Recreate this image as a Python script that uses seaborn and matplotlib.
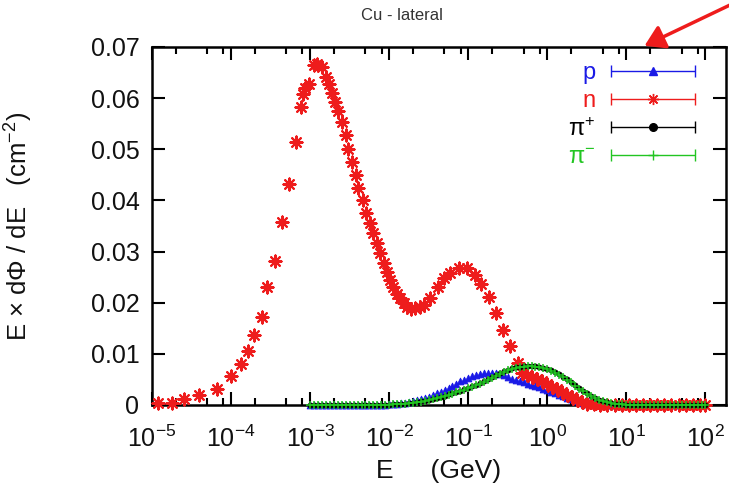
import numpy as np
import pandas as pd
import matplotlib
matplotlib.use("Agg")
import matplotlib.pyplot as plt
import seaborn as sns
from matplotlib.container import ErrorbarContainer
from matplotlib.legend_handler import HandlerErrorbar
from matplotlib.ticker import LogLocator, FixedLocator, FuncFormatter, NullFormatter

# ---------------- data ----------------
# log10(E/GeV) grid of the p / pi+ / pi- series
pi_logE = [-3.00, -2.95, -2.90, -2.85, -2.80, -2.75, -2.70, -2.65, -2.60, -2.55,
           -2.50, -2.45, -2.40, -2.35, -2.30, -2.25, -2.20, -2.15, -2.10, -2.05,
           -2.00, -1.95, -1.90, -1.85, -1.80, -1.75, -1.70, -1.65, -1.60, -1.55,
           -1.50, -1.45, -1.40, -1.35, -1.30, -1.25, -1.20, -1.15, -1.10, -1.05,
           -1.00, -0.95, -0.90, -0.85, -0.80, -0.75, -0.70, -0.65, -0.60, -0.55,
           -0.50, -0.45, -0.40, -0.35, -0.30, -0.25, -0.20, -0.15, -0.10, -0.05,
           0.00, 0.05, 0.10, 0.15, 0.20, 0.25, 0.30, 0.35, 0.40, 0.45,
           0.50, 0.55, 0.60, 0.65, 0.70, 0.75, 0.80, 0.85, 0.90, 0.95,
           1.00, 1.05, 1.10, 1.15, 1.20, 1.25, 1.30, 1.35, 1.40, 1.45,
           1.50, 1.55, 1.60, 1.65, 1.70, 1.75, 1.80, 1.85, 1.90, 1.95, 2.00]

p_flux = [0, 0, 0, 0, 0, 0, 0, 0, 0, 0,
          0, 0, 0, 0, 0, 0, 0, 0, 0, 0,
          0.0001, 0.0001, 0.0002, 0.0003, 0.0004, 0.0005, 0.0007, 0.0009, 0.0011, 0.0013,
          0.0016, 0.0019, 0.0023, 0.0026, 0.0030, 0.0034, 0.0038, 0.0042, 0.0046, 0.0049,
          0.0053, 0.0056, 0.0059, 0.0061, 0.0062, 0.0063, 0.0063, 0.0062, 0.0061, 0.0058,
          0.0054, 0.0051, 0.0049, 0.0046, 0.0044, 0.0042, 0.0040, 0.0038, 0.0035, 0.0032,
          0.0029, 0.0026, 0.0023, 0.0020, 0.0017, 0.0014, 0.0011, 0.0008, 0.0006, 0.0004,
          0.0002, 0.0001, 0, 0, 0, 0, 0, 0, 0, 0,
          0, 0, 0, 0, 0, 0, 0, 0, 0, 0,
          0, 0, 0, 0, 0, 0, 0, 0, 0, 0, 0]

pip_flux = [0, 0, 0, 0, 0, 0, 0, 0, 0, 0,
            0, 0, 0, 0, 0, 0, 0, 0, 0, 0,
            0.0000, 0.0001, 0.0001, 0.0002, 0.0002, 0.0003, 0.0004, 0.0005, 0.0007, 0.0008,
            0.0010, 0.0012, 0.0014, 0.0016, 0.0018, 0.0021, 0.0023, 0.0025, 0.0028, 0.0031,
            0.0034, 0.0037, 0.0040, 0.0043, 0.0046, 0.0050, 0.0054, 0.0058, 0.0062, 0.0066,
            0.0069, 0.0072, 0.0074, 0.0075, 0.0076, 0.0077, 0.0077, 0.0076, 0.0075, 0.0073,
            0.0071, 0.0068, 0.0064, 0.0060, 0.0055, 0.0050, 0.0044, 0.0039, 0.0033, 0.0028,
            0.0023, 0.0018, 0.0014, 0.0010, 0.0007, 0.0005, 0.0003, 0.0002, 0.0001, 0.0001,
            0, 0, 0, 0, 0, 0, 0, 0, 0, 0,
            0, 0, 0, 0, 0, 0, 0, 0, 0, 0, 0]

pim_flux = [0, 0, 0, 0, 0, 0, 0, 0, 0, 0,
            0, 0, 0, 0, 0, 0, 0, 0, 0, 0,
            0.0000, 0.0001, 0.0001, 0.0002, 0.0002, 0.0003, 0.0004, 0.0005, 0.0006, 0.0008,
            0.0010, 0.0012, 0.0014, 0.0016, 0.0018, 0.0020, 0.0022, 0.0025, 0.0027, 0.0030,
            0.0033, 0.0036, 0.0039, 0.0042, 0.0045, 0.0049, 0.0053, 0.0057, 0.0061, 0.0065,
            0.0068, 0.0071, 0.0073, 0.0074, 0.0075, 0.0076, 0.0076, 0.0075, 0.0074, 0.0072,
            0.0070, 0.0067, 0.0063, 0.0059, 0.0054, 0.0049, 0.0044, 0.0038, 0.0032, 0.0027,
            0.0022, 0.0017, 0.0013, 0.0010, 0.0007, 0.0005, 0.0003, 0.0002, 0.0001, 0.0001,
            0, 0, 0, 0, 0, 0, 0, 0, 0, 0,
            0, 0, 0, 0, 0, 0, 0, 0, 0, 0, 0]

n_logE = [-4.92, -4.75, -4.60, -4.40, -4.18, -4.00, -3.88, -3.79, -3.71, -3.61,
          -3.54, -3.44, -3.36, -3.27, -3.18, -3.12, -3.085, -3.06, -3.02, -2.95,
          -2.915, -2.85, -2.80, -2.756, -2.725, -2.684, -2.642, -2.599, -2.548, -2.515,
          -2.472, -2.418, -2.389, -2.333, -2.291, -2.241, -2.199, -2.156, -2.114, -2.072,
          -2.029, -1.987, -1.946, -1.903, -1.861, -1.819, -1.776, -1.725, -1.671, -1.608,
          -1.566, -1.481, -1.389, -1.313, -1.228, -1.123, -1.016, -0.920, -0.835, -0.743,
          -0.649, -0.557, -0.468, -0.373, -0.320, -0.257, -0.194, -0.130, -0.067, -0.004,
          0.059, 0.123, 0.186, 0.249, 0.313, 0.376, 0.439, 0.503, 0.586, 0.671,
          0.76, 0.85, 0.94, 1.03, 1.12, 1.21, 1.30, 1.39, 1.48, 1.57,
          1.66, 1.75, 1.84, 1.93, 2.00]

n_flux = [0.00033, 0.00045, 0.0011, 0.0020, 0.0031, 0.0056, 0.0080, 0.0106, 0.0137, 0.0173,
          0.0230, 0.0282, 0.0357, 0.0432, 0.0514, 0.0583, 0.0609, 0.0619, 0.0627, 0.0665,
          0.0667, 0.0661, 0.0642, 0.0628, 0.0611, 0.0593, 0.0575, 0.0554, 0.0528, 0.0500,
          0.0476, 0.0450, 0.0425, 0.0401, 0.0376, 0.0355, 0.0336, 0.0316, 0.0297, 0.0277,
          0.0260, 0.0244, 0.0231, 0.0218, 0.0209, 0.0199, 0.0191, 0.0187, 0.0189, 0.0192,
          0.0196, 0.0209, 0.0230, 0.0248, 0.0259, 0.0267, 0.0268, 0.0254, 0.0236, 0.0211,
          0.0179, 0.0147, 0.0115, 0.0083, 0.0063, 0.0059, 0.0054, 0.0050, 0.0046, 0.0041,
          0.0036, 0.0031, 0.0026, 0.0020, 0.0015, 0.0010, 0.0005, 0.0002, 0.0001, 0.0,
          0, 0, 0, 0, 0, 0, 0, 0, 0, 0,
          0, 0, 0, 0, 0]

y_ticks = [0.0, 0.01, 0.02, 0.03, 0.04, 0.05, 0.06, 0.07]
series_labels = ["p", "n", r"$\pi^{+}$", r"$\pi^{-}$"]

BLUE = "#1a1ae6"
RED = "#ee1c1c"
BLACK = "#000000"
GREEN = "#22c522"

# ---------------- style ----------------
sns.set_theme(style="ticks")
plt.rcParams["font.family"] = ["Liberation Sans", "DejaVu Sans"]
plt.rcParams["mathtext.fontset"] = "custom"
plt.rcParams["mathtext.rm"] = "Liberation Sans"
plt.rcParams["mathtext.it"] = "Liberation Sans:italic"
plt.rcParams["mathtext.bf"] = "Liberation Sans:bold"
plt.rcParams["mathtext.default"] = "regular"

fig = plt.figure(figsize=(7.29, 4.93), dpi=100)
ax = fig.add_axes([0.2085, 0.1785, 0.7867, 0.7262])

df_pi = pd.DataFrame({"E": 10.0 ** np.array(pi_logE), "p": p_flux,
                      "pip": pip_flux, "pim": pim_flux})
df_n = pd.DataFrame({"E": 10.0 ** np.array(n_logE), "n": n_flux})

sns.scatterplot(data=df_pi, x="E", y="p", marker="^", s=24, color=BLUE,
                edgecolor=BLUE, linewidth=0.6, ax=ax, clip_on=False, zorder=3)
sns.scatterplot(data=df_n, x="E", y="n", marker=(8, 2, 0), s=75, color=RED,
                linewidth=1.5, ax=ax, clip_on=False, zorder=4)
sns.scatterplot(data=df_pi, x="E", y="pip", marker="o", s=14, color=BLACK,
                edgecolor=BLACK, linewidth=0.4, ax=ax, clip_on=False, zorder=5)
sns.scatterplot(data=df_pi, x="E", y="pim", marker="+", s=30, color=GREEN,
                linewidth=1.1, ax=ax, clip_on=False, zorder=6)

# legend handles in gnuplot error-bar style (drawn outside the view)
handles = []
for mk, col, ms in [("^", BLUE, 5.5), ((8, 2, 0), RED, 8), ("o", BLACK, 5.5), ("+", GREEN, 7)]:
    h = ax.errorbar([1e-9], [-1.0], xerr=[1e-10], marker=mk, linestyle="none",
                    color=col, ms=ms, mec=col, mfc=col,
                    capsize=4, elinewidth=1.0, capthick=1.0)
    handles.append(h)

LEG_FS = 17
leg = ax.legend(handles, series_labels, loc="upper right",
                bbox_to_anchor=(0.946, 0.958), frameon=False, markerfirst=False,
                handlelength=3.55, handletextpad=0.65, labelspacing=0.25,
                fontsize=LEG_FS, borderpad=0, borderaxespad=0,
                handler_map={ErrorbarContainer: HandlerErrorbar(xerr_size=1.775, numpoints=1)})
for t, c in zip(leg.get_texts(), [BLUE, RED, BLACK, GREEN]):
    t.set_color(c)

# axes
ax.set_xscale("log")
ax.set_xlim(1e-5, 10 ** 2.253)
ax.set_ylim(0, 0.07)
ax.xaxis.set_major_locator(LogLocator(base=10, numticks=20))
ax.xaxis.set_minor_locator(LogLocator(base=10, subs=[2, 5, 8], numticks=20))
ax.xaxis.set_minor_formatter(NullFormatter())
ax.yaxis.set_major_locator(FixedLocator(y_ticks))
ax.yaxis.set_major_formatter(FuncFormatter(lambda v, p: "0" if abs(v) < 1e-9 else f"{v:.2f}"))
ax.tick_params(which="both", direction="in", top=True, right=True, width=1.5, color="black")
ax.tick_params(which="major", length=9.5, labelsize=18, labelcolor="#111111")
ax.tick_params(axis="x", which="major", pad=15)
ax.tick_params(axis="y", which="major", pad=9)
ax.tick_params(which="minor", length=5)
for s in ax.spines.values():
    s.set_linewidth(1.8)
    s.set_color("black")

ax.set_xlabel("E     (GeV)", fontsize=19, labelpad=5, color="#111111")
ax.set_ylabel(r"E $\times$ d$\Phi$ / dE   (cm$^{-2}$)", fontsize=18.5, labelpad=40, color="#111111")

fig.text(402 / 729, 1 - 15 / 493, "Cu - lateral", ha="center", va="center",
         fontsize=12, color="#333333")

# red pointer arrow
fig.patches.append(matplotlib.patches.FancyArrowPatch(
    (1.01, 1 - 2 / 493), (642 / 729, 1 - 47 / 493), transform=fig.transFigure,
    arrowstyle="-|>,head_length=8,head_width=5", color=RED, lw=2.5, mutation_scale=1.5))

fig.savefig("out.png", dpi=100)
